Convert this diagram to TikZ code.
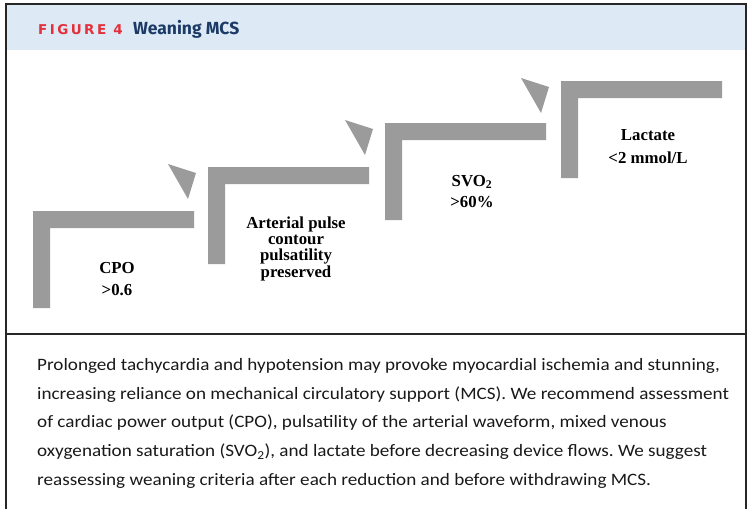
\documentclass[tikz,border=0pt]{standalone}
\usepackage{fontspec}
\setmainfont{Liberation Serif}
\newfontfamily\bodyfont[FakeStretch=1.1]{Carlito}
\newfontfamily\headfont{Fira Sans}
\newfontfamily\figfont[LetterSpace=18]{DejaVu Sans}

\definecolor{headbg}{HTML}{DDE9F5}
\definecolor{figred}{HTML}{E3303A}
\definecolor{navy}{HTML}{1B3A66}
\definecolor{stepgray}{HTML}{9B9B9B}

\begin{document}
\frenchspacing
\begin{tikzpicture}[x=1pt,y=-1pt,
    stepbar/.style={fill=stepgray},
    steplabel/.style={font=\bfseries\fontsize{16.8}{#1}\selectfont, align=center, inner sep=0pt, anchor=base},
    bodyline/.style={font=\bodyfont\fontsize{17.4}{20}\selectfont, text=black!90, anchor=base west, inner sep=0pt},
    frame/.style={line width=1.5pt, draw=black!85}]

	\useasboundingbox (0,0) rectangle (752,509);

	% header band
	\fill[headbg] (6,4) rectangle (746,50);
	\node[anchor=base west, inner sep=0pt, text=figred, font=\figfont\bfseries\fontsize{13.5}{14}\selectfont] (fignum) at (38,34.5) {FIGURE 4};
	\node[anchor=base west, inner sep=0pt, text=navy, font=\headfont\bfseries\fontsize{17.5}{18}\selectfont] (figtitle) at (133,34.5) {Weaning MCS};

	% frame
	\draw[frame] (6,509) -- (6,4) -- (746,4) -- (746,509);
	\draw[frame] (6,334) -- (746,334);

	% steps
	\foreach \sx/\sy [count=\i] in {33/211, 208/167, 385/123, 561/81}
		\coordinate (s\i) at (\sx,\sy);
	\foreach \i in {1,...,4}
		\fill[stepbar] (s\i) -- ++(161,0) -- ++(0,17) -- ++(-144,0) -- ++(0,80) -- ++(-17,0) -- cycle;
	\foreach \i in {2,3,4}
		\fill[stepbar] (s\i) ++(-40,-3) -- ++(28,9) -- ++(-8,26) -- cycle;

	% step labels (anchored on the last line)
	\node[steplabel=22] (cpo) at (117,295) {CPO\\>0.6};
	\node[steplabel=16.3] (arterial) at (296,277) {Arterial pulse\\contour\\pulsatility\\preserved};
	\node[steplabel=21] (svo) at (472,207) {SVO\textsubscript{2}\\>60\%};
	\node[steplabel=23] (lactate) at (648,163) {Lactate\\<2 mmol/L};

	% caption
	\foreach \txt [count=\i] in {
		{Prolonged tachycardia and hypotension may provoke myocardial ischemia and stunning,},
		{increasing reliance on mechanical circulatory support (MCS). We recommend assessment},
		{of cardiac power output (CPO), pulsatility of the arterial waveform, mixed venous},
		{oxygenation saturation (SVO\textsubscript{2}), and lactate before decreasing device flows. We suggest},
		{reassessing weaning criteria after each reduction and before withdrawing MCS.}}
		\node[bodyline] (line\i) at (37,{370.7+28.6*(\i-1)}) {\txt};
\end{tikzpicture}
\end{document}
